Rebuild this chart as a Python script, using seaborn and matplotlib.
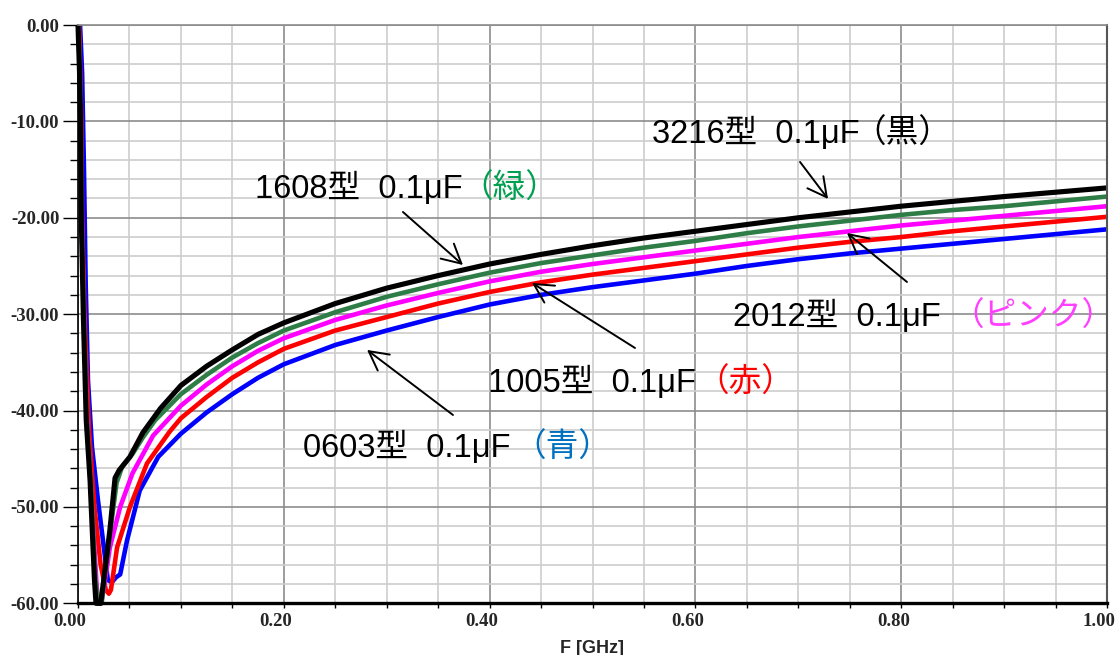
import numpy as np
import pandas as pd
import matplotlib
matplotlib.use("Agg")
import matplotlib.pyplot as plt
import matplotlib.transforms as mtrans
import seaborn as sns
from matplotlib.ticker import MultipleLocator

# ---------------- data ----------------
f_3216 = [0.0000, 0.0015, 0.0025, 0.0032, 0.0053, 0.0080, 0.0117, 0.0160, 0.0175, 0.0220,
          0.0250, 0.0310, 0.0360, 0.0400, 0.0505, 0.0630, 0.0800, 0.1000, 0.1250, 0.150,
          0.175, 0.200, 0.250, 0.300, 0.350, 0.400, 0.450, 0.500, 0.550, 0.600, 0.650,
          0.700, 0.750, 0.800, 0.850, 0.900, 0.950, 1.000]
db_3216 = [0.0, -5.0, -10.0, -20.0, -30.6, -41.0, -47.2, -57.6, -60.0, -60.0,
           -57.6, -52.4, -47.0, -46.2, -44.8, -42.3, -39.8, -37.4, -35.4, -33.7,
           -32.1, -30.9, -28.9, -27.3, -26.0, -24.8, -23.8, -22.9, -22.1, -21.4, -20.7,
           -20.0, -19.4, -18.8, -18.3, -17.8, -17.35, -16.9]

f_1608 = [0.0005, 0.0018, 0.0028, 0.0036, 0.0058, 0.0086, 0.0125, 0.0168, 0.0195, 0.0230,
          0.0260, 0.0320, 0.0375, 0.0430, 0.0530, 0.0630, 0.0750, 0.1000, 0.1250, 0.150,
          0.175, 0.200, 0.250, 0.300, 0.350, 0.400, 0.450, 0.500, 0.550, 0.600, 0.650,
          0.700, 0.750, 0.800, 0.850, 0.900, 0.950, 1.000]
db_1608 = [0.0, -5.0, -10.0, -20.0, -30.6, -41.0, -47.5, -57.5, -60.0, -60.0,
           -57.0, -52.0, -47.5, -45.8, -44.5, -42.8, -41.0, -38.3, -36.3, -34.5,
           -33.0, -31.7, -29.8, -28.2, -26.9, -25.7, -24.7, -23.9, -23.1, -22.4, -21.6,
           -20.9, -20.3, -19.7, -19.2, -18.8, -18.3, -17.8]

f_2012 = [0.0005, 0.0018, 0.0028, 0.0036, 0.0058, 0.0088, 0.0135, 0.0180, 0.0195, 0.0225,
          0.0250, 0.0310, 0.0410, 0.0530, 0.0730, 0.1000, 0.1250, 0.150,
          0.175, 0.200, 0.250, 0.300, 0.350, 0.400, 0.450, 0.500, 0.550, 0.600, 0.650,
          0.700, 0.750, 0.800, 0.850, 0.900, 0.950, 1.000]
db_2012 = [0.0, -5.0, -10.0, -20.0, -30.6, -41.0, -50.0, -58.0, -60.0, -60.0,
           -58.5, -54.2, -50.0, -46.5, -42.6, -39.5, -37.3, -35.4,
           -33.8, -32.5, -30.6, -29.1, -27.8, -26.6, -25.6, -24.8, -24.1, -23.4, -22.7,
           -22.0, -21.4, -20.8, -20.3, -19.8, -19.3, -18.8]

f_1005 = [0.0010, 0.0022, 0.0032, 0.0040, 0.0065, 0.0107, 0.0160, 0.0220, 0.0270, 0.0300,
          0.0320, 0.0380, 0.0505, 0.0670, 0.0890, 0.1000, 0.1250, 0.150,
          0.175, 0.200, 0.250, 0.300, 0.350, 0.400, 0.450, 0.500, 0.550, 0.600, 0.650,
          0.700, 0.750, 0.800, 0.850, 0.900, 0.950, 1.000]
db_1005 = [0.0, -5.0, -10.0, -20.0, -30.6, -42.0, -50.0, -56.0, -58.6, -59.0,
           -58.6, -54.2, -50.0, -45.5, -42.2, -40.8, -38.6, -36.6,
           -35.0, -33.6, -31.7, -30.3, -28.9, -27.7, -26.7, -25.9, -25.2, -24.5, -23.8,
           -23.1, -22.5, -22.0, -21.4, -20.9, -20.4, -19.9]

f_0603 = [0.0020, 0.0040, 0.0058, 0.0075, 0.0097, 0.0136, 0.0194, 0.0243, 0.0290, 0.0330,
          0.0370, 0.0410, 0.0476, 0.0600, 0.0780, 0.1000, 0.1250, 0.150,
          0.175, 0.200, 0.250, 0.300, 0.350, 0.400, 0.450, 0.500, 0.550, 0.600, 0.650,
          0.700, 0.750, 0.800, 0.850, 0.900, 0.950, 1.000]
db_0603 = [0.0, -5.0, -15.0, -27.0, -36.9, -43.8, -49.3, -53.5, -57.6, -57.8,
           -57.3, -57.0, -53.5, -48.3, -44.8, -42.4, -40.2, -38.3,
           -36.6, -35.2, -33.2, -31.7, -30.3, -29.0, -28.0, -27.2, -26.5, -25.8, -25.0,
           -24.3, -23.7, -23.2, -22.7, -22.2, -21.7, -21.2]

series_names = ["0603", "1005", "2012", "1608", "3216"]   # draw order (black on top)
line_colors = {"0603": "#0000ff", "1005": "#ff0000", "2012": "#ff00ff",
               "1608": "#2e7d46", "3216": "#000000"}

label_main = ["3216型  0.1μF", "1608型  0.1μF", "2012型  0.1μF", "1005型  0.1μF", "0603型  0.1μF"]
label_tag = ["（黒）", "（緑）", "（ピンク）", "（赤）", "（青）"]
tag_colors = ["#000000", "#00a050", "#ff40ff", "#ff0000", "#0070c0"]

x_tick_labels = ["0.00", "0.20", "0.40", "0.60", "0.80", "1.00"]
y_tick_labels = ["0.00", "-10.00", "-20.00", "-30.00", "-40.00", "-50.00", "-60.00"]

# ---------------- build long data ----------------
curves = {"3216": (f_3216, db_3216), "1608": (f_1608, db_1608), "2012": (f_2012, db_2012),
          "1005": (f_1005, db_1005), "0603": (f_0603, db_0603)}
df = pd.concat([pd.DataFrame({"f": v[0], "dB": v[1], "series": k}) for k, v in curves.items()],
               ignore_index=True)

sns.set_style("white")
plt.rcParams["font.family"] = ["Liberation Sans", "Noto Sans CJK JP", "DejaVu Sans"]

W, H = 1119, 655
fig = plt.figure(figsize=(W / 100, H / 100), dpi=100)
L, R, T, B = 78, 1107, 25, 603.3
ax = fig.add_axes([L / W, 1 - B / H, (R - L) / W, (B - T) / H])

sns.lineplot(data=df, x="f", y="dB", hue="series", hue_order=series_names,
             palette=line_colors, estimator=None, sort=False, legend=False,
             ax=ax, linewidth=3.3)
for ln in ax.lines:
    ln.set_clip_on(False)
    ln.set_solid_joinstyle("round")
    ln.set_solid_capstyle("butt")
ax.lines[-1].set_linewidth(3.7)

ax.set_xlim(0, 1.0)
ax.set_ylim(-60, 0)

ax.xaxis.set_minor_locator(MultipleLocator(0.05))
ax.yaxis.set_minor_locator(MultipleLocator(2))
ax.set_xticks([float(s) for s in x_tick_labels])
ax.set_xticklabels(x_tick_labels)
ax.set_yticks([float(s) for s in y_tick_labels])
ax.set_yticklabels(y_tick_labels)

ax.set_axisbelow(True)
ax.grid(which="major", color="#8c8c8c", linewidth=1.2)
ax.grid(which="minor", color="#cdcdcd", linewidth=1.2)

ax.tick_params(axis="x", which="both", bottom=True, direction="out", length=3.6,
               width=1.0, color="black", pad=3.6)
ax.tick_params(axis="y", which="major", left=True, direction="out", length=11,
               width=1.0, color="black", pad=2.5)
ax.tick_params(axis="y", which="minor", left=True, direction="out", length=5.8,
               width=1.0, color="black")

for side, col, lw in [("left", "black", 1.2), ("bottom", "black", 2.4),
                      ("top", "#8c8c8c", 1.2), ("right", "#555555", 1.5)]:
    ax.spines[side].set_visible(True)
    ax.spines[side].set_color(col)
    ax.spines[side].set_linewidth(lw)

shift = mtrans.ScaledTranslation(-8 / 100, 0, fig.dpi_scale_trans)
for lbl in ax.get_xticklabels():
    lbl.set_fontfamily("Liberation Serif")
    lbl.set_fontweight("bold")
    lbl.set_fontsize(13.5)
    lbl.set_transform(lbl.get_transform() + shift)
for lbl in ax.get_yticklabels():
    lbl.set_fontfamily("Liberation Serif")
    lbl.set_fontweight("bold")
    lbl.set_fontsize(13.5)

ax.set_xlabel("F [GHz]", fontsize=13, fontweight="bold", family="Liberation Sans", labelpad=7)
ax.set_ylabel("")

# ---------------- annotations ----------------
text_main_xy = [(0.5578, -12.24), (0.1720, -17.95), (0.6365, -31.22), (0.3984, -38.07), (0.2187, -44.81)]
text_tag_x = [0.7532, 0.3712, 0.8484, 0.6006, 0.4227]
arrow_tail = [(0.7017, -14.21), (0.3158, -19.40), (0.8056, -26.66), (0.5413, -33.51), (0.3644, -40.46)]
arrow_head = [(0.7289, -18.05), (0.3741, -24.90), (0.7473, -21.58), (0.4412, -26.76), (0.2809, -33.71)]

fam = ["Liberation Sans", "Noto Sans CJK JP"]
for i in range(5):
    x0, y0 = text_main_xy[i]
    ax.text(x0, y0, label_main[i], fontsize=23.5, color="black", family=fam,
            ha="left", va="baseline")
    ax.text(text_tag_x[i], y0, label_tag[i], fontsize=23.5, color=tag_colors[i], family=fam,
            ha="left", va="baseline")
    ax.annotate("", xy=arrow_head[i], xytext=arrow_tail[i],
                arrowprops=dict(arrowstyle="->,head_length=0.68,head_width=0.36",
                                lw=1.4, color="black", shrinkA=0, shrinkB=0,
                                mutation_scale=20))

fig.savefig("out.png", dpi=100, facecolor="white")
